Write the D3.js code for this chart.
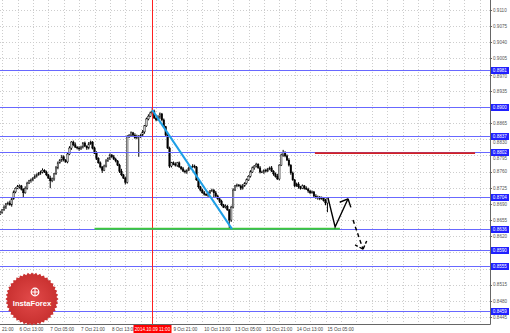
<!DOCTYPE html>
<html lang="en">
<head>
<meta charset="UTF-8">
<title>EUR/GBP H1</title>
<style>
  body { margin: 0; background: #fff; }
  svg { display: block; font-family: 'Liberation Sans', Arial, sans-serif; }
</style>
</head>
<body>
<div id="chart"></div>
<script src="https://cdn.jsdelivr.net/npm/d3@7"></script>
<script>
// hourly bars, bar 0 = 3 Oct 21:00 (weekend hours skipped)
const firstBar = 7;
const firstOpen = 0.8668;
const closes = [
  0.8672, 0.8677, 0.8683, 0.8690, 0.8692, 0.8688, 0.8701, 0.8716, 0.8724, 0.8727,
  0.8729, 0.8722, 0.8714, 0.8724, 0.8735, 0.8740, 0.8742, 0.8746, 0.8750, 0.8753,
  0.8757, 0.8759, 0.8763, 0.8759, 0.8753, 0.8746, 0.8740, 0.8744, 0.8755, 0.8768,
  0.8779, 0.8785, 0.8792, 0.8785, 0.8781, 0.8798, 0.8811, 0.8824, 0.8818, 0.8813,
  0.8811, 0.8809, 0.8813, 0.8822, 0.8815, 0.8811, 0.8820, 0.8824, 0.8811, 0.8800,
  0.8789, 0.8779, 0.8770, 0.8763, 0.8772, 0.8783, 0.8789, 0.8796, 0.8792, 0.8787,
  0.8783, 0.8774, 0.8761, 0.8753, 0.8746, 0.8737, 0.8835, 0.8839, 0.8844, 0.8839,
  0.8833, 0.8837, 0.8835, 0.8839, 0.8846, 0.8859, 0.8874, 0.8880, 0.8887, 0.8891,
  0.8876, 0.8872, 0.8878, 0.8885, 0.8872, 0.8857, 0.8839, 0.8811, 0.8772, 0.8779,
  0.8776, 0.8774, 0.8779, 0.8770, 0.8766, 0.8761, 0.8759, 0.8763, 0.8768, 0.8770,
  0.8772, 0.8770, 0.8742, 0.8727, 0.8720, 0.8714, 0.8711, 0.8709, 0.8714, 0.8718,
  0.8720, 0.8714, 0.8707, 0.8701, 0.8696, 0.8688, 0.8683, 0.8685, 0.8677, 0.8655,
  0.8683, 0.8720, 0.8729, 0.8731, 0.8729, 0.8724, 0.8729, 0.8735, 0.8742, 0.8750,
  0.8759, 0.8768, 0.8772, 0.8776, 0.8768, 0.8759, 0.8759, 0.8763, 0.8761, 0.8766,
  0.8768, 0.8761, 0.8755, 0.8750, 0.8744, 0.8774, 0.8796, 0.8802, 0.8794, 0.8785,
  0.8774, 0.8757, 0.8742, 0.8729, 0.8733, 0.8727, 0.8724, 0.8729, 0.8724, 0.8722,
  0.8718, 0.8714, 0.8716, 0.8707, 0.8703, 0.8705, 0.8701, 0.8703, 0.8698, 0.8692,
  0.8703
];
// wick length beyond the body, in pips
const highWicks = [
  3, 2, 4, 2, 3, 5, 2, 3, 2, 4,  3, 2, 2, 4, 3, 2, 3, 2, 4, 3,
  2, 3, 4, 2, 3, 2, 5, 3, 2, 4,  3, 2, 4, 3, 2, 3, 4, 2, 3, 5,
  2, 4, 3, 2, 3, 2, 4, 3, 2, 3,  4, 2, 3, 2, 3, 4, 2, 3, 2, 4,
  3, 2, 3, 5, 2, 3, 4, 2, 3, 2,  4, 3, 2, 3, 4, 2, 3, 4, 3, 7,
  3, 2, 4, 3, 2, 3, 2, 4, 3, 2,  3, 4, 2, 3, 2, 4, 3, 2, 3, 2,
  4, 3, 2, 3, 2, 3, 4, 2, 3, 2,  3, 2, 4, 3, 2, 3, 2, 4, 3, 2,
  3, 4, 2, 3, 2, 3, 4, 2, 3, 2,  4, 3, 2, 3, 2, 4, 3, 2, 3, 2,
  3, 4, 2, 3, 5, 2, 3, 5, 2, 3,  4, 2, 3, 2, 3, 4, 2, 3, 2, 4,
  3, 2, 3, 2, 4, 3, 2, 3, 2, 3,  2
];
const lowWicks = [
  2, 3, 2, 4, 3, 2, 4, 2, 3, 2,  4, 3, 9, 2, 3, 2, 4, 3, 2, 3,
  2, 4, 3, 2, 3, 2, 16, 3, 4, 2, 3, 2, 4, 3, 2, 3, 2, 4, 3, 2,
  3, 4, 2, 3, 2, 4, 3, 2, 3, 2,  4, 2, 3, 6, 2, 3, 2, 4, 3, 2,
  3, 2, 4, 3, 2, 5, 3, 2, 4, 3,  2, 3, 43, 2, 3, 4, 2, 3, 2, 3,
  2, 3, 2, 4, 3, 2, 3, 2, 4, 3,  2, 3, 4, 2, 3, 2, 3, 4, 2, 3,
  2, 3, 2, 4, 3, 2, 3, 2, 4, 3,  2, 10, 3, 2, 4, 3, 2, 3, 2, 19,
  4, 3, 2, 3, 2, 4, 3, 2, 3, 2,  3, 2, 4, 3, 2, 3, 2, 4, 3, 2,
  3, 2, 4, 3, 2, 3, 2, 4, 3, 2,  3, 4, 2, 3, 2, 4, 3, 2, 3, 2,
  4, 3, 2, 3, 2, 4, 3, 2, 3, 5,  20
];

const priceTicks = [0.9110, 0.9075, 0.9040, 0.9005, 0.8970, 0.8935, 0.8900, 0.8865, 0.8830, 0.8795,
  0.8760, 0.8725, 0.8690, 0.8655, 0.8620, 0.8585, 0.8550, 0.8515, 0.8480, 0.8445];
const levels = [0.8981, 0.8900, 0.8837, 0.8802, 0.8704, 0.8636, 0.8590, 0.8555, 0.8459];
const timeLabels = ['3 Oct 21:00', '6 Oct 13:00', '7 Oct 05:00', '7 Oct 21:00', '8 Oct 13:00', '9 Oct 05:00',
  '9 Oct 21:00', '10 Oct 13:00', '13 Oct 05:00', '13 Oct 21:00', '14 Oct 13:00', '15 Oct 05:00'];
const timeLabelBars = [0, 16, 32, 48, 64, 80, 96, 112, 128, 144, 160, 176];

// drawn objects, [bar, price]
const markerBar = 86;
const markerLabel = '2014.10.09 11:00';
const trendLine = [[86, 0.8893], [127.4, 0.8636]];
const supportLine = [[56, 0.8636], [183.5, 0.8636]];
const resistLine = [[170.5, 0.8800], [253.7, 0.8800]];
const arrowSolid = [[177.3, 0.8703], [181, 0.8640], [187.7, 0.8701]];
const arrowDashed = [[190.3, 0.8655], [195.5, 0.8592]];

const W = 510, H = 333, plotR = 490, plotB = 324;
const pip = 0.0001;
const fs = 4.6;

const svg = d3.select('#chart').append('svg').attr('width', W).attr('height', H);

const x = d3.scaleLinear().domain([16, 176]).range([17.5, 325.5]);
const y = d3.scaleLinear().domain([0.8445, 0.9110]).range([317, 10]);

const plot = svg.append('g');
plot.append('clipPath').attr('id', 'clip')
  .append('rect').attr('width', plotR).attr('height', plotB);
const g = plot.append('g').attr('clip-path', 'url(#clip)');

// grid
const gridBars = d3.range(8, 260, 8);
g.selectAll('.vg').data(gridBars).join('line')
  .attr('x1', d => Math.round(x(d)) + 0.5).attr('x2', d => Math.round(x(d)) + 0.5)
  .attr('y1', 0).attr('y2', plotB)
  .attr('stroke', '#cdcdcd').attr('stroke-dasharray', '1,2');
g.selectAll('.hg').data(priceTicks).join('line')
  .attr('x1', 0).attr('x2', plotR)
  .attr('y1', d => Math.round(y(d)) + 0.5).attr('y2', d => Math.round(y(d)) + 0.5)
  .attr('stroke', '#cdcdcd').attr('stroke-dasharray', '1,2');

// candles
const candles = closes.map((c, k) => {
  const o = k === 0 ? firstOpen : closes[k - 1];
  return {
    i: firstBar + k, o, c,
    h: Math.max(o, c) + highWicks[k] * pip,
    l: Math.min(o, c) - lowWicks[k] * pip
  };
});
g.selectAll('.wick').data(candles).join('line')
  .attr('x1', d => x(d.i)).attr('x2', d => x(d.i))
  .attr('y1', d => y(d.h)).attr('y2', d => y(d.l))
  .attr('stroke', '#000').attr('stroke-width', 1);
g.selectAll('.body').data(candles).join('rect')
  .attr('x', d => x(d.i) - 0.8).attr('width', 1.6)
  .attr('y', d => y(Math.max(d.o, d.c)))
  .attr('height', d => Math.max(0.8, Math.abs(y(d.o) - y(d.c))))
  .attr('fill', d => d.c >= d.o ? '#c8c8c8' : '#000')
  .attr('stroke', '#000').attr('stroke-width', 0.4);

// horizontal levels
g.selectAll('.lvl').data(levels).join('line')
  .attr('x1', 0).attr('x2', plotR)
  .attr('y1', d => Math.round(y(d)) + 0.5).attr('y2', d => Math.round(y(d)) + 0.5)
  .attr('stroke', '#6868ff').attr('stroke-width', 1);

// vertical marker
g.append('line')
  .attr('x1', Math.round(x(markerBar)) + 0.5).attr('x2', Math.round(x(markerBar)) + 0.5)
  .attr('y1', 0).attr('y2', plotB)
  .attr('stroke', '#ff2020').attr('stroke-width', 1);

const line = d3.line().x(d => x(d[0])).y(d => y(d[1]));
g.append('path').attr('d', line(resistLine)).attr('stroke', '#d42020').attr('stroke-width', 1.6).attr('fill', 'none');
g.append('path').attr('d', line(supportLine)).attr('stroke', '#3cc83c').attr('stroke-width', 2).attr('fill', 'none');
g.append('path').attr('d', line(trendLine)).attr('stroke', '#1e9fe6').attr('stroke-width', 2).attr('fill', 'none');

// forecast arrows
const head = (pts, dashed) => {
  const a = pts[pts.length - 2], b = pts[pts.length - 1];
  const x1 = x(a[0]), y1 = y(a[1]), x2 = x(b[0]), y2 = y(b[1]);
  const ang = Math.atan2(y2 - y1, x2 - x1);
  const len = 9, spread = 0.75;
  [ang + Math.PI - spread, ang + Math.PI + spread].forEach(t => {
    g.append('line')
      .attr('x1', x2).attr('y1', y2)
      .attr('x2', x2 + len * Math.cos(t)).attr('y2', y2 + len * Math.sin(t))
      .attr('stroke', '#000').attr('stroke-width', 1.4)
      .attr('stroke-dasharray', dashed ? '4,2' : null);
  });
};
g.append('path').attr('d', line(arrowSolid)).attr('stroke', '#000').attr('stroke-width', 1.4).attr('fill', 'none');
head(arrowSolid, false);
g.append('path').attr('d', line(arrowDashed)).attr('stroke', '#000').attr('stroke-width', 1.4)
  .attr('stroke-dasharray', '4,3').attr('fill', 'none');
head(arrowDashed, true);

// axes
svg.append('line').attr('x1', plotR + 0.5).attr('x2', plotR + 0.5).attr('y1', 0).attr('y2', plotB + 0.5)
  .attr('stroke', '#666');
svg.append('line').attr('x1', 0).attr('x2', plotR + 0.5).attr('y1', plotB + 0.5).attr('y2', plotB + 0.5)
  .attr('stroke', '#666');

const fmt = d3.format('.4f');
const boxTop = l => Math.round(y(l)) - 3;
// tick labels: hidden when a level box sits on them, pushed just below a box they touch
const tickItems = priceTicks
  .filter(t => levels.every(l => Math.abs(y(t) - y(l)) > 3))
  .map(t => {
    let base = y(t) + 1.8;
    levels.forEach(l => {
      const top = boxTop(l), bottom = top + 7;
      if (base > top && base - fs * 0.75 < bottom) base = bottom + fs * 0.75 + 0.3;
    });
    return { t, base };
  });
svg.selectAll('.pt').data(tickItems).join('text')
  .attr('x', plotR + 3).attr('y', d => d.base)
  .attr('font-size', fs).attr('fill', '#555')
  .text(d => fmt(d.t));
svg.selectAll('.ptk').data(priceTicks).join('line')
  .attr('x1', plotR).attr('x2', plotR + 2)
  .attr('y1', d => Math.round(y(d)) + 0.5).attr('y2', d => Math.round(y(d)) + 0.5)
  .attr('stroke', '#666');

const lb = svg.selectAll('.lb').data(levels).join('g')
  .attr('transform', d => `translate(${plotR + 1},${boxTop(d)})`);
lb.append('rect').attr('width', 18).attr('height', 7).attr('fill', '#2020ff');
lb.append('text').attr('x', 1.8).attr('y', 5.2).attr('font-size', fs).attr('fill', '#fff').text(fmt);

// time labels; the one under the marker box is covered by it
const mx = Math.round(x(markerBar)) + 0.5;
const timeItems = timeLabelBars.map((b, k) => ({ b, t: timeLabels[k] }))
  .filter(d => Math.abs(x(d.b) - mx) > 15);
svg.selectAll('.tl').data(timeItems).join('text')
  .attr('x', d => Math.max(2, x(d.b) + 2)).attr('y', 330.5)
  .attr('font-size', fs).attr('fill', '#444')
  .text(d => x(d.b) + 2 < 0 ? d.t.split(' ').pop() : d.t);

svg.append('rect').attr('x', mx - 19).attr('y', plotB + 1).attr('width', 38).attr('height', 8).attr('fill', '#ff0000');
svg.append('text').attr('x', mx).attr('y', 330.5).attr('text-anchor', 'middle')
  .attr('font-size', fs).attr('fill', '#fff').text(markerLabel);

// logo
const defs = svg.append('defs');
const grad = defs.append('radialGradient').attr('id', 'logoGrad');
grad.append('stop').attr('offset', '0%').attr('stop-color', '#e24a4a');
grad.append('stop').attr('offset', '100%').attr('stop-color', '#c8302f');
const logo = svg.append('g').attr('transform', 'translate(32,299)');
const teeth = d3.range(0, 80).map(k => [k * Math.PI * 2 / 80, k % 2 ? 24.5 : 26.5]);
logo.append('path')
  .attr('d', d3.lineRadial().angle(d => d[0]).radius(d => d[1]).curve(d3.curveLinearClosed)(teeth))
  .attr('fill', 'url(#logoGrad)');
logo.append('circle').attr('cx', 3).attr('cy', -7).attr('r', 3.8)
  .attr('fill', 'none').attr('stroke', '#fff').attr('stroke-width', 1.2);
logo.append('path').attr('d', 'M3,-10.5V-3.5M-0.5,-7H6.5').attr('stroke', '#fff').attr('stroke-width', 1.1);
logo.append('text').attr('x', 0).attr('y', 6.5).attr('text-anchor', 'middle')
  .attr('font-size', 7.6).attr('font-weight', 'bold').attr('fill', '#fff').text('InstaForex');
</script>
</body>
</html>
